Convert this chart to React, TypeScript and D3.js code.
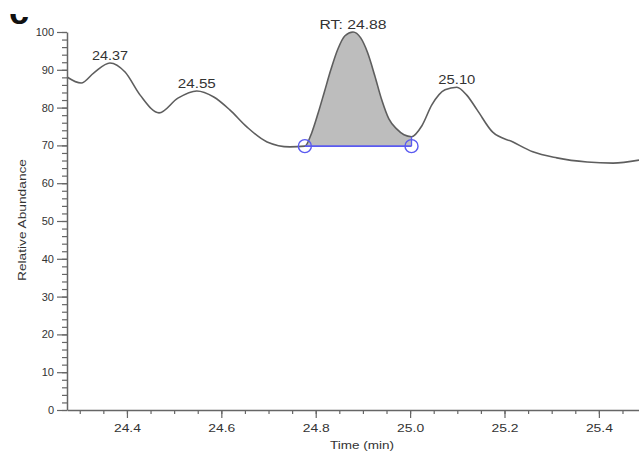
import React, { useEffect, useRef } from 'react';
import * as d3 from 'd3';

// chromatogram trace (time in min, relative abundance in %)
const times = [
  24.273, 24.303, 24.330, 24.364, 24.396, 24.428, 24.468, 24.508, 24.548, 24.584,
  24.618, 24.654, 24.697, 24.745, 24.777, 24.792, 24.805, 24.818, 24.832, 24.847,
  24.862, 24.879, 24.895, 24.910, 24.925, 24.940, 24.955, 24.972, 24.987, 25.003,
  25.025, 25.046, 25.074, 25.099, 25.120, 25.142, 25.175, 25.218, 25.260, 25.311,
  25.375, 25.430, 25.485,
];
const abundance = [
  88.1, 86.5, 89.2, 91.8, 89.4, 83.3, 78.6, 82.5, 84.4, 82.8,
  79.4, 74.9, 70.9, 69.6, 69.8, 73.5, 78.5, 84.0, 90.0, 95.5,
  99.0, 100, 98.5, 94.5, 88.5, 82.0, 77.0, 74.3, 72.8, 72.3,
  75.2, 80.7, 84.7, 85.4, 83.3, 79.4, 73.5, 70.9, 68.3, 66.7,
  65.6, 65.3, 66.1,
];

const peakTimes = [24.364, 24.548, 24.879, 25.099];
const peakLabels = ['24.37', '24.55', 'RT: 24.88', '25.10'];
const peakLabelWidths = [36, 38, 67, 37];

const xTickValues = [24.4, 24.6, 24.8, 25.0, 25.2, 25.4];
const xTickLabels = ['24.4', '24.6', '24.8', '25.0', '25.2', '25.4'];
const yTickValues = [0, 10, 20, 30, 40, 50, 60, 70, 80, 90, 100];

// integrated peak: start / end of the baseline and its level
const integrationStart = 24.777;
const integrationEnd = 25.003;
const baselineLevel = 69.8;

const W = 639;
const H = 451;

export default function App() {
  const ref = useRef<SVGSVGElement>(null);

  useEffect(() => {
    if (!ref.current) return;
    const svg = d3.select(ref.current);
    svg.selectAll('*').remove();

    const font = 'Arial, "Liberation Sans", sans-serif';
    const left = 67, right = W, top = 32, bottom = 410;

    const x = d3.scaleLinear().domain([24.273, 25.485]).range([left, right]);
    const y = d3.scaleLinear().domain([0, 100]).range([bottom, top]);

    const data = times.map((t, i) => ({ t, v: abundance[i] }));
    const defs = svg.append('defs');

    // cropped panel letter in the corner
    defs.append('clipPath').attr('id', 'letterClip')
      .append('rect').attr('x', 0).attr('y', 14).attr('width', 60).attr('height', 20);
    svg.append('text')
      .attr('clip-path', 'url(#letterClip)')
      .attr('x', 9).attr('y', 23.5)
      .attr('font-family', font).attr('font-weight', 'bold').attr('font-size', 36)
      .attr('fill', '#111')
      .text('c');

    // shaded integrated area
    defs.append('clipPath').attr('id', 'areaClip')
      .append('rect')
      .attr('x', x(integrationStart)).attr('y', 0)
      .attr('width', x(integrationEnd) - x(integrationStart)).attr('height', H);

    const area = d3.area<{ t: number; v: number }>()
      .x(d => x(d.t))
      .y0(y(baselineLevel))
      .y1(d => y(d.v))
      .curve(d3.curveMonotoneX);

    svg.append('path')
      .datum(data)
      .attr('clip-path', 'url(#areaClip)')
      .attr('fill', '#bdbdbd')
      .attr('d', area);

    // trace
    const line = d3.line<{ t: number; v: number }>()
      .x(d => x(d.t))
      .y(d => y(d.v))
      .curve(d3.curveMonotoneX);

    svg.append('path')
      .datum(data)
      .attr('fill', 'none')
      .attr('stroke', '#5e5e5e')
      .attr('stroke-width', 1.6)
      .attr('d', line);

    // baseline with end markers
    const blue = '#5a5af0';
    svg.append('line')
      .attr('x1', x(integrationStart)).attr('x2', x(integrationEnd))
      .attr('y1', y(baselineLevel)).attr('y2', y(baselineLevel))
      .attr('stroke', blue).attr('stroke-width', 1.6);

    [integrationStart, integrationEnd].forEach(t => {
      const i = times.indexOf(t);
      svg.append('line')
        .attr('x1', x(t)).attr('x2', x(t))
        .attr('y1', y(baselineLevel)).attr('y2', y(abundance[i]))
        .attr('stroke', blue).attr('stroke-width', 1.3);
      svg.append('circle')
        .attr('cx', x(t)).attr('cy', y(baselineLevel))
        .attr('r', 6.5)
        .attr('fill', 'none')
        .attr('stroke', blue).attr('stroke-width', 1.4);
    });

    // peak labels
    peakTimes.forEach((t, i) => {
      const v = abundance[times.indexOf(t)];
      svg.append('text')
        .attr('x', x(t)).attr('y', y(v) - 3)
        .attr('text-anchor', 'middle')
        .attr('font-family', font).attr('font-size', 12)
        .attr('fill', '#333')
        .attr('textLength', peakLabelWidths[i])
        .attr('lengthAdjust', 'spacingAndGlyphs')
        .text(peakLabels[i]);
    });

    const axisColor = '#666';

    // y axis: minor then major ticks
    const yMinor = svg.append('g')
      .attr('transform', `translate(${left},0)`)
      .call(d3.axisLeft(y).tickValues(d3.range(0, 101, 2)).tickSize(5).tickFormat(() => ''));
    yMinor.select('.domain').remove();
    yMinor.selectAll('line').attr('stroke', axisColor).attr('stroke-width', 1.2);

    const yAxis = svg.append('g')
      .attr('transform', `translate(${left},0)`)
      .call(d3.axisLeft(y).tickValues(yTickValues).tickSize(10).tickSizeOuter(0).tickPadding(3));
    yAxis.select('.domain').attr('stroke', axisColor).attr('stroke-width', 1.5);
    yAxis.selectAll('line').attr('stroke', axisColor).attr('stroke-width', 1.2);
    yAxis.selectAll('text')
      .attr('font-family', font).attr('font-size', 11).attr('fill', '#333');

    // x axis
    const xMinor = svg.append('g')
      .attr('transform', `translate(0,${bottom})`)
      .call(d3.axisBottom(x).tickValues(d3.range(24.3, 25.48, 0.05)).tickSize(4).tickFormat(() => ''));
    xMinor.select('.domain').remove();
    xMinor.selectAll('line').attr('stroke', axisColor).attr('stroke-width', 1.2);

    const xAxis = svg.append('g')
      .attr('transform', `translate(0,${bottom})`)
      .call(d3.axisBottom(x).tickValues(xTickValues).tickSize(8).tickSizeOuter(0).tickPadding(6)
        .tickFormat((_, i) => xTickLabels[i]));
    xAxis.select('.domain').attr('stroke', axisColor).attr('stroke-width', 1.5);
    xAxis.selectAll('line').attr('stroke', axisColor).attr('stroke-width', 1.2);
    xAxis.selectAll('text')
      .attr('font-family', font).attr('font-size', 11).attr('fill', '#333')
      .attr('textLength', 27).attr('lengthAdjust', 'spacingAndGlyphs');

    // axis titles
    svg.append('text')
      .attr('x', 362).attr('y', 449)
      .attr('text-anchor', 'middle')
      .attr('font-family', font).attr('font-size', 11).attr('fill', '#333')
      .attr('textLength', 64).attr('lengthAdjust', 'spacingAndGlyphs')
      .text('Time (min)');

    svg.append('text')
      .attr('transform', 'translate(26,220) rotate(-90)')
      .attr('text-anchor', 'middle')
      .attr('font-family', font).attr('font-size', 11).attr('fill', '#333')
      .attr('textLength', 122).attr('lengthAdjust', 'spacingAndGlyphs')
      .text('Relative Abundance');
  }, []);

  return (
    <svg
      ref={ref}
      width={W}
      height={H}
      style={{ position: 'absolute', left: 0, top: 0, background: '#fff' }}
    />
  );
}
